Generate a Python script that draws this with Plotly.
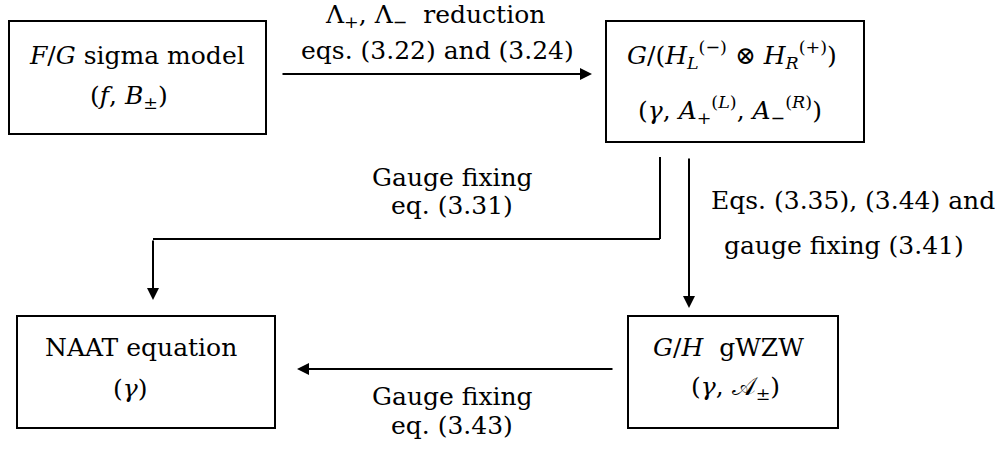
import plotly.graph_objects as go

# ---- diagram data (pixel coordinate system of the 1007x454 canvas) ----
box_names = ["sigma", "coset", "naat", "gwzw"]
box_x0 = [9, 606, 17, 628]
box_x1 = [266, 864, 275, 838]
box_y0 = [21, 21, 316, 316]
box_y1 = [134, 142, 428, 428]

box_line1 = ["<i>F</i>/<i>G</i> sigma model",
             "<i>G</i>/(<i>H</i><sub><i>L</i></sub><sup>(−)</sup> ⊗ <i>H</i><sub><i>R</i></sub><sup>(+)</sup>)",
             "NAAT equation",
             "<i>G</i>/<i>H</i>  gWZW"]
box_line1_x = [137, 732, 141, 728]
box_line2 = ["(<i>f</i>, <i>B</i><sub>±</sub>)",
             "(<i>γ</i>, <i>A</i><sub>+</sub><sup>(<i>L</i>)</sup>, <i>A</i><sub>−</sub><sup>(<i>R</i>)</sup>)",
             "(<i>γ</i>)",
             "(<i>γ</i>, 𝒜<sub>±</sub>)"]
box_line2_x = [129, 730, 130, 735]
line1_dy = [55, 55, 347, 347]
line2_dy = [97, 110, 388, 388]

# edge labels
edge_labels = ["Λ<sub>+</sub>, Λ<sub>−</sub>  reduction",
               "eqs. (3.22) and (3.24)",
               "Gauge fixing",
               "eq. (3.31)",
               "Eqs. (3.35), (3.44) and",
               " gauge fixing (3.41)",
               "Gauge fixing",
               "eq. (3.43)"]
edge_label_x = [435, 437, 452, 452, 853, 840, 452, 452]
edge_label_y = [16, 50, 177, 205, 200, 245, 396, 425]

# connector paths (polyline points), last point gets an arrowhead
paths = [
    [(281, 74), (592, 74)],
    [(660, 157), (660, 239), (153, 239), (153, 300)],
    [(689, 157), (689, 308)],
    [(614, 369), (297, 369)],
]

FONT = "DejaVu Serif, Liberation Serif, serif"
FS = 25

fig = go.Figure()
fig.add_trace(go.Scatter(x=[0, 1007], y=[0, 454], mode="markers",
                         marker=dict(opacity=0), hoverinfo="skip", showlegend=False))

shapes = []
for i in range(len(box_names)):
    shapes.append(dict(type="rect", xref="x", yref="y",
                       x0=box_x0[i], x1=box_x1[i], y0=box_y0[i], y1=box_y1[i],
                       line=dict(color="black", width=2)))

annotations = []
for i in range(len(box_names)):
    annotations.append(dict(x=box_line1_x[i], y=line1_dy[i], xref="x", yref="y",
                            text=box_line1[i], showarrow=False,
                            font=dict(family=FONT, size=FS, color="black")))
    annotations.append(dict(x=box_line2_x[i], y=line2_dy[i], xref="x", yref="y",
                            text=box_line2[i], showarrow=False,
                            font=dict(family=FONT, size=FS, color="black")))
for t, x, y in zip(edge_labels, edge_label_x, edge_label_y):
    annotations.append(dict(x=x, y=y, xref="x", yref="y", text=t, showarrow=False,
                            font=dict(family=FONT, size=FS, color="black")))

for pts in paths:
    for (xa, ya), (xb, yb) in zip(pts[:-2], pts[1:-1]):
        shapes.append(dict(type="line", xref="x", yref="y", x0=xa, y0=ya, x1=xb, y1=yb,
                           line=dict(color="black", width=2)))
    (xa, ya), (xb, yb) = pts[-2], pts[-1]
    annotations.append(dict(x=xb, y=yb, ax=xa, ay=ya, xref="x", yref="y",
                            axref="x", ayref="y", text="", showarrow=True,
                            arrowhead=2, arrowsize=1.2, arrowwidth=2, arrowcolor="black"))

fig.update_layout(
    width=1007, height=454,
    margin=dict(l=0, r=0, t=0, b=0),
    paper_bgcolor="white", plot_bgcolor="white",
    xaxis=dict(range=[0, 1007], visible=False, fixedrange=True),
    yaxis=dict(range=[454, 0], visible=False, fixedrange=True),
    shapes=shapes, annotations=annotations,
    showlegend=False,
)
fig.write_html("out.html", config={"displayModeBar": False},
               post_script="document.body.style.margin='0';document.body.style.overflow='hidden';")
